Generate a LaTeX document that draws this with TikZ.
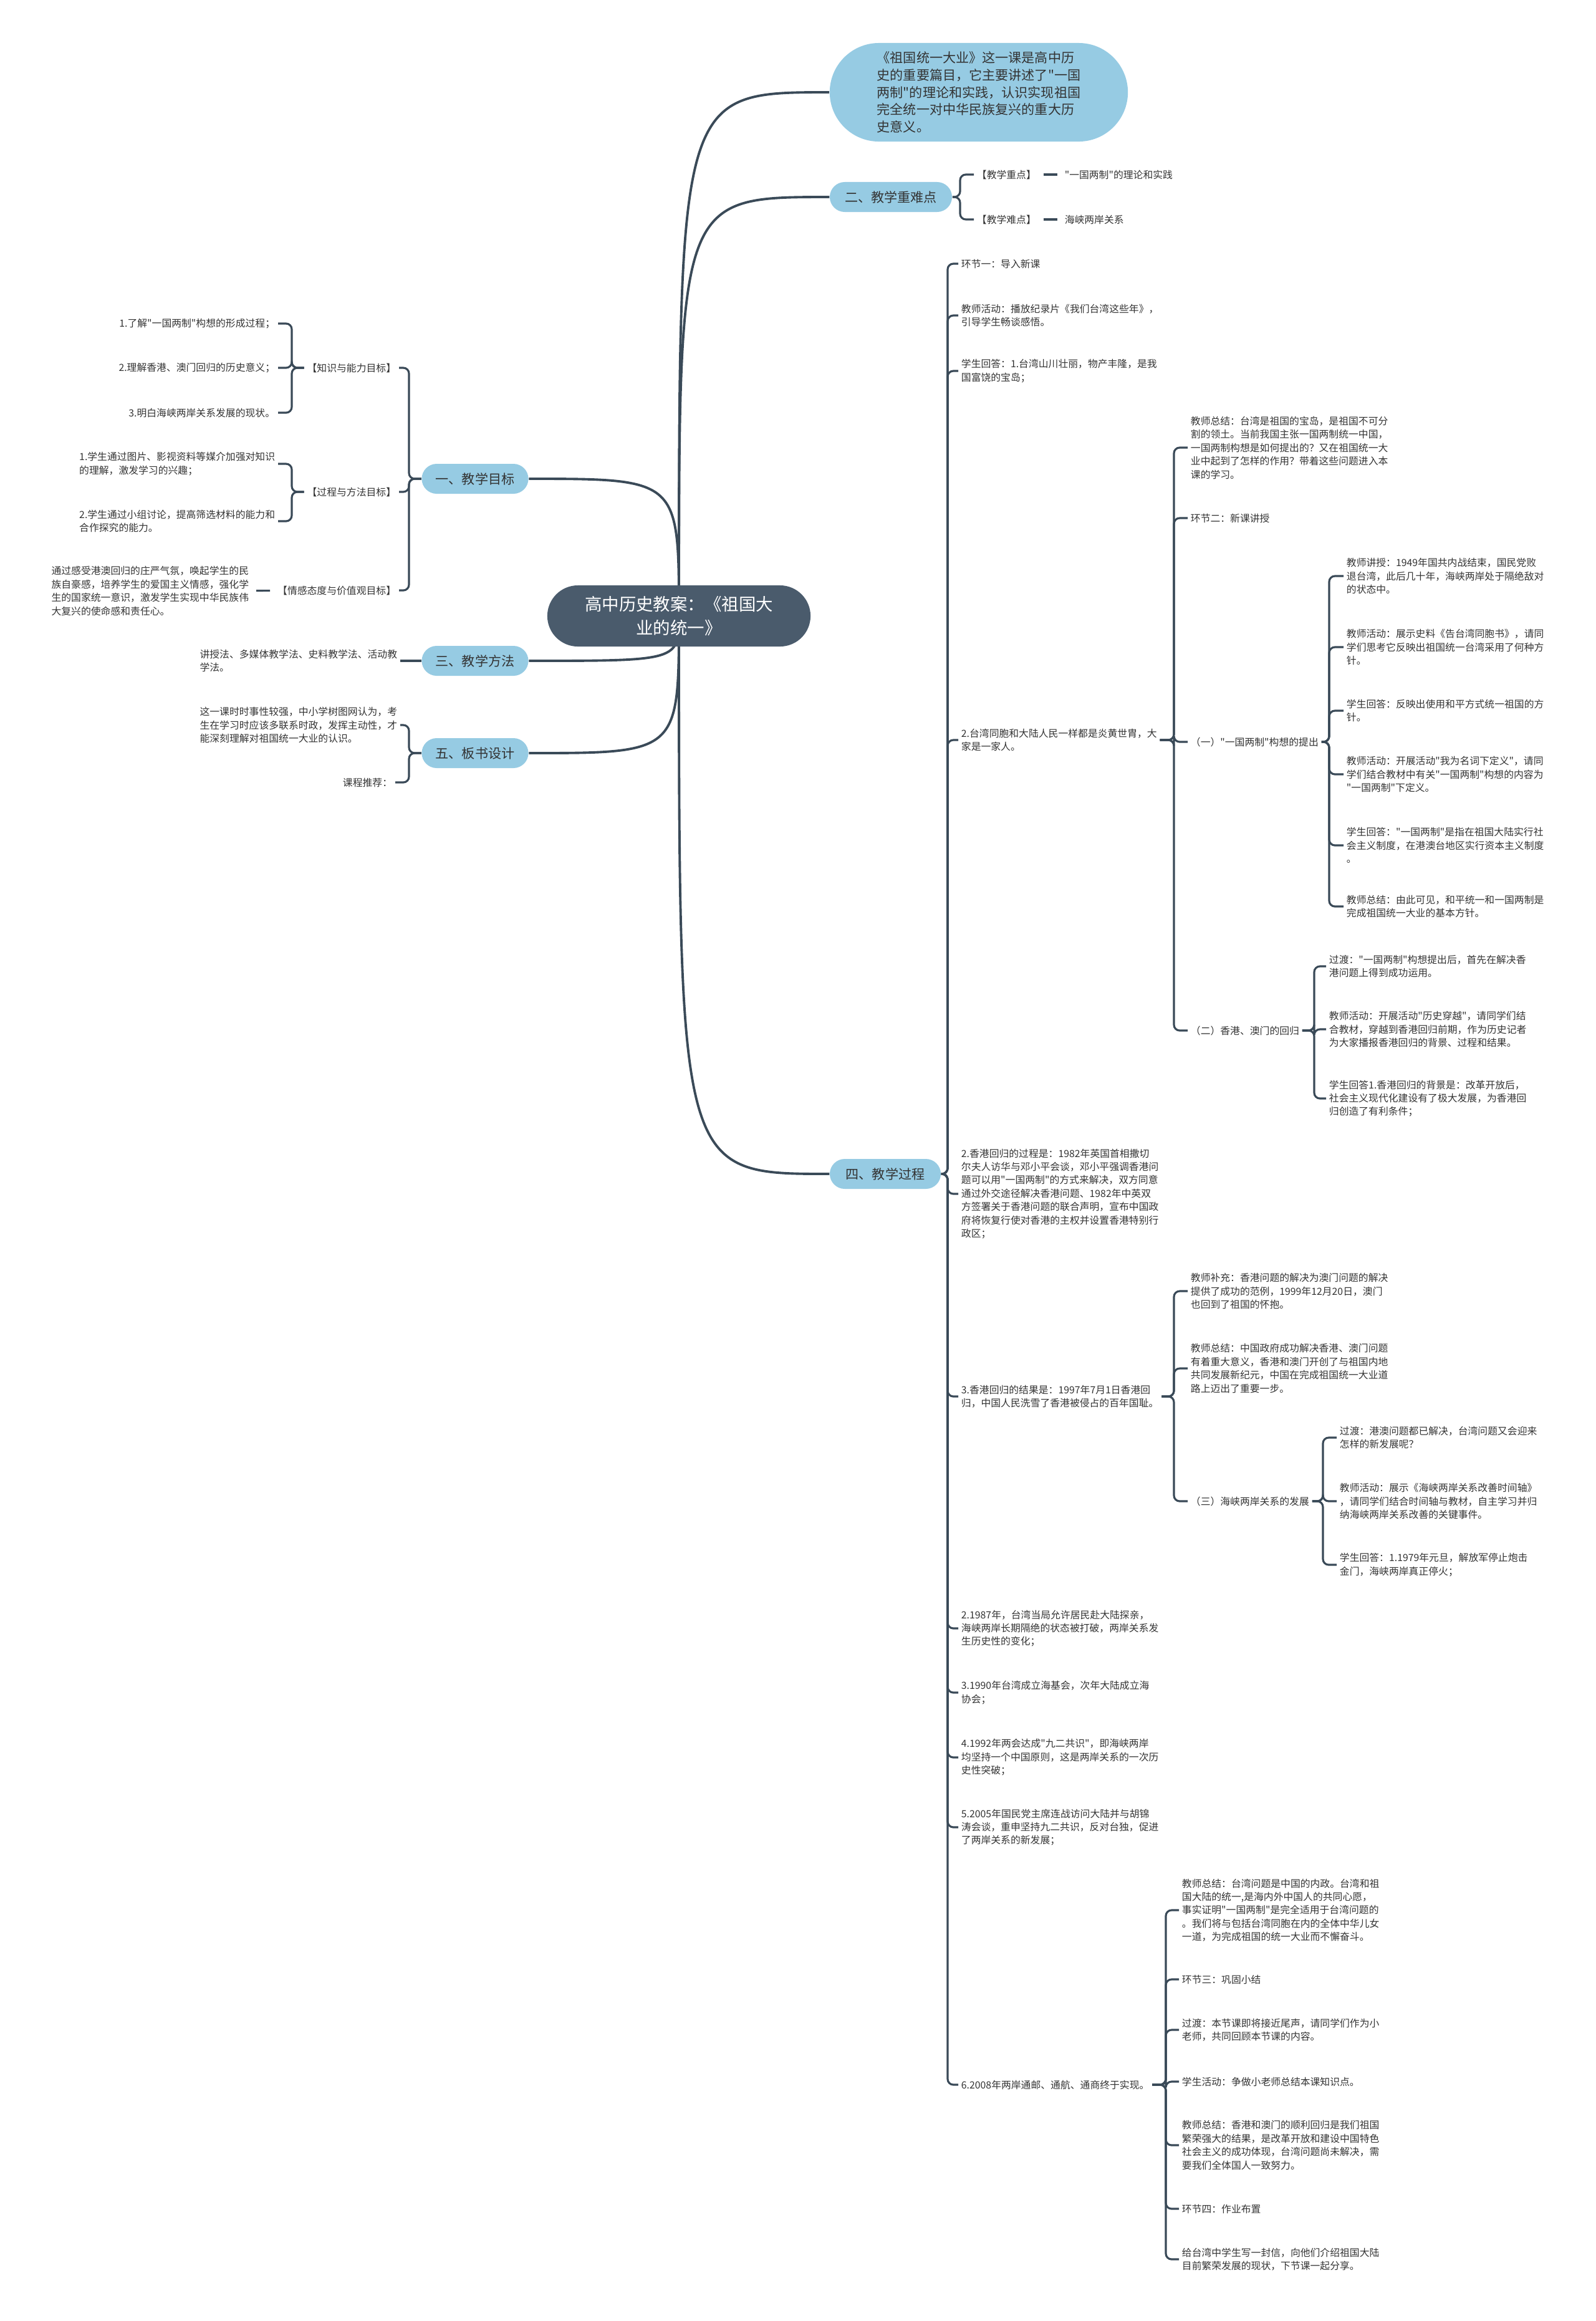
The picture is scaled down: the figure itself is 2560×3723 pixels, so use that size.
\documentclass[tikz,border=0pt]{standalone}
\usepackage{fontspec}
\setmainfont{Noto Sans CJK SC}[Ligatures=TeXOff]
\usetikzlibrary{positioning,backgrounds}
\definecolor{topicblue}{RGB}{150,203,227}
\definecolor{rootgray}{RGB}{74,91,108}
\definecolor{linegray}{RGB}{58,74,88}
\newcommand\leaffont{\fontsize{4.5pt}{6.1pt}\selectfont}

\begin{document}
\begin{tikzpicture}[x=0.01cm, y=-0.01cm,
  every node/.style={text=black!80},
  leaf/.style={font=\leaffont, align=left, inner sep=1.2pt},
  topic/.style={fill=topicblue, rounded corners=0.24cm, minimum height=0.48cm,
    inner sep=0pt, font=\fontsize{6pt}{7pt}\selectfont},
  link/.style={draw=linegray, line width=1.1pt},
  twig/.style={draw=linegray, line width=0.9pt, rounded corners=2.6pt}]
  \useasboundingbox (0,0) rectangle (2560,3723);

  \node[fill=rootgray, text=white, rounded corners=0.49cm, minimum width=4.22cm,
    minimum height=0.98cm, align=center, font=\fontsize{7.8pt}{10.8pt}\selectfont]
    (root) at (1089,988) {高中历史教案：《祖国大\\业的统一》};

  \node[topic, minimum width=4.78cm, minimum height=1.58cm, rounded corners=0.79cm,
    align=left, font=\fontsize{6pt}{7.9pt}\selectfont] (intro) at (1570,148)
    {《祖国统一大业》这一课是高中历\\史的重要篇目，它主要讲述了"一国\\两制"的理论和实践，认识实现祖国\\完全统一对中华民族复兴的重大历\\史意义。};
  \node[topic, minimum width=1.71cm] (goal) at (762,768) {一、教学目标};
  \node[topic, minimum width=1.96cm] (keys) at (1429,316) {二、教学重难点};
  \node[topic, minimum width=1.71cm] (method) at (762,1060) {三、教学方法};
  \node[topic, minimum width=1.78cm] (process) at (1420,1883) {四、教学过程};
  \node[topic, minimum width=1.71cm] (board) at (762,1208) {五、板书设计};

  \begin{scope}[on background layer]
    \foreach \n in {intro,keys,process}
      \draw[link] (root.center) .. controls (root.center |- \n.west) .. (\n.west);
    \foreach \n in {goal,method,board}
      \draw[link] (root.center) .. controls (root.center |- \n.east) .. (\n.east);
  \end{scope}

  % 二
  \node[leaf, anchor=west] (focus) at (1562,280) {【教学重点】};
  \node[leaf, right=0.36cm of focus] (focus1) {"一国两制"的理论和实践};
  \node[leaf, anchor=west] (hard) at (1562,352) {【教学难点】};
  \node[leaf, right=0.36cm of hard] (hard1) {海峡两岸关系};
  \foreach \c in {focus,hard}
    \draw[twig] (keys.east) -- (1540,0 |- keys.east) |- (\c.west);
  \draw[twig, shorten <=2pt, shorten >=2pt] (focus) -- (focus1);
  \draw[twig, shorten <=2pt, shorten >=2pt] (hard) -- (hard1);

  % 一
  \node[leaf, anchor=east] (know) at (640,590) {【知识与能力目标】};
  \node[leaf, anchor=east] (skill) at (640,789) {【过程与方法目标】};
  \node[leaf, anchor=east] (value) at (640,947) {【情感态度与价值观目标】};
  \foreach \c in {know,skill,value}
    \draw[twig] (goal.west) -- (656,0 |- goal.west) |- (\c.east);
  \node[leaf, anchor=east] (know1) at (446,519) {1.了解"一国两制"构想的形成过程；};
  \node[leaf, anchor=east] (know2) at (446,590) {2.理解香港、澳门回归的历史意义；};
  \node[leaf, anchor=east] (know3) at (446,662) {3.明白海峡两岸关系发展的现状。};
  \foreach \c in {know1,know2,know3}
    \draw[twig] (know.west) -- (468,0 |- know.west) |- (\c.east);
  \node[leaf, anchor=east] (skill1) at (446,744) {1.学生通过图片、影视资料等媒介加强对知识\\的理解，激发学习的兴趣；};
  \node[leaf, anchor=east] (skill2) at (446,836) {2.学生通过小组讨论，提高筛选材料的能力和\\合作探究的能力。};
  \foreach \c in {skill1,skill2}
    \draw[twig] (skill.west) -- (468,0 |- skill.west) |- (\c.east);
  \node[leaf, anchor=east] (value1) at (404,948) {通过感受港澳回归的庄严气氛，唤起学生的民\\族自豪感，培养学生的爱国主义情感，强化学\\生的国家统一意识，激发学生实现中华民族伟\\大复兴的使命感和责任心。};
  \draw[twig, shorten <=2pt, shorten >=2pt] (value) -- (value1);

  % 三
  \node[leaf, anchor=east] (method1) at (642,1060) {讲授法、多媒体教学法、史料教学法、活动教\\学法。};
  \draw[twig] (method) -- (method1);

  % 五
  \node[leaf, anchor=east] (board1) at (642,1163) {这一课时时事性较强，中小学树图网认为，考\\生在学习时应该多联系时政，发挥主动性，才\\能深刻理解对祖国统一大业的认识。};
  \node[leaf, anchor=east] (board2) at (634,1255) {课程推荐：};
  \foreach \c in {board1,board2}
    \draw[twig] (board.west) -- (656,0 |- board.west) |- (\c.east);

  % 四
  \node[leaf, anchor=west] (step1) at (1537,423) {环节一：导入新课};
  \node[leaf, anchor=west] (play) at (1537,506) {教师活动：播放纪录片《我们台湾这些年》，\\引导学生畅谈感悟。};
  \node[leaf, anchor=west] (answer1) at (1537,595) {学生回答：1.台湾山川壮丽，物产丰隆，是我\\国富饶的宝岛；};
  \node[leaf, anchor=west] (kin) at (1537,1187) {2.台湾同胞和大陆人民一样都是炎黄世胄，大\\家是一家人。};
  \node[leaf, anchor=west] (hkproc) at (1537,1915) {2.香港回归的过程是：1982年英国首相撒切\\尔夫人访华与邓小平会谈，邓小平强调香港问\\题可以用"一国两制"的方式来解决，双方同意\\通过外交途径解决香港问题、1982年中英双\\方签署关于香港问题的联合声明，宣布中国政\\府将恢复行使对香港的主权并设置香港特别行\\政区；};
  \node[leaf, anchor=west] (hkres) at (1537,2240) {3.香港回归的结果是：1997年7月1日香港回\\归，中国人民洗雪了香港被侵占的百年国耻。};
  \node[leaf, anchor=west] (cs1987) at (1537,2612) {2.1987年，台湾当局允许居民赴大陆探亲，\\海峡两岸长期隔绝的状态被打破，两岸关系发\\生历史性的变化；};
  \node[leaf, anchor=west] (cs1990) at (1537,2715) {3.1990年台湾成立海基会，次年大陆成立海\\协会；};
  \node[leaf, anchor=west] (cs1992) at (1537,2819) {4.1992年两会达成"九二共识"，即海峡两岸\\均坚持一个中国原则，这是两岸关系的一次历\\史性突破；};
  \node[leaf, anchor=west] (cs2005) at (1537,2931) {5.2005年国民党主席连战访问大陆并与胡锦\\涛会谈，重申坚持九二共识，反对台独，促进\\了两岸关系的新发展；};
  \node[leaf, anchor=west] (cs2008) at (1537,3344) {6.2008年两岸通邮、通航、通商终于实现。};
  \foreach \c in {step1,play,answer1,kin,hkproc,hkres,cs1987,cs1990,cs1992,cs2005,cs2008}
    \draw[twig] (process.east) -- (1520,0 |- process.east) |- (\c.west);

  \node[leaf, anchor=west] (sumA) at (1905,718) {教师总结：台湾是祖国的宝岛，是祖国不可分\\割的领土。当前我国主张一国两制统一中国，\\一国两制构想是如何提出的？又在祖国统一大\\业中起到了怎样的作用？带着这些问题进入本\\课的学习。};
  \node[leaf, anchor=west] (step2) at (1905,831) {环节二：新课讲授};
  \node[leaf, anchor=west] (partA) at (1905,1190) {（一）"一国两制"构想的提出};
  \node[leaf, anchor=west] (partB) at (1905,1653) {（二）香港、澳门的回归};
  \foreach \c in {sumA,step2,partA,partB}
    \draw[twig] (kin.east) -- (1883,0 |- kin.east) |- (\c.west);

  \node[leaf, anchor=west] (a1) at (2155,924) {教师讲授：1949年国共内战结束，国民党败\\退台湾，此后几十年，海峡两岸处于隔绝敌对\\的状态中。};
  \node[leaf, anchor=west] (a2) at (2155,1038) {教师活动：展示史料《告台湾同胞书》，请同\\学们思考它反映出祖国统一台湾采用了何种方\\针。};
  \node[leaf, anchor=west] (a3) at (2155,1140) {学生回答：反映出使用和平方式统一祖国的方\\针。};
  \node[leaf, anchor=west] (a4) at (2155,1242) {教师活动：开展活动"我为名词下定义"，请同\\学们结合教材中有关"一国两制"构想的内容为\\"一国两制"下定义。};
  \node[leaf, anchor=west] (a5) at (2155,1356) {学生回答："一国两制"是指在祖国大陆实行社\\会主义制度，在港澳台地区实行资本主义制度\\。};
  \node[leaf, anchor=west] (a6) at (2155,1454) {教师总结：由此可见，和平统一和一国两制是\\完成祖国统一大业的基本方针。};
  \foreach \c in {a1,a2,a3,a4,a5,a6}
    \draw[twig] (partA.east) -- (2132,0 |- partA.east) |- (\c.west);

  \node[leaf, anchor=west] (b1) at (2127,1550) {过渡："一国两制"构想提出后，首先在解决香\\港问题上得到成功运用。};
  \node[leaf, anchor=west] (b2) at (2127,1651) {教师活动：开展活动"历史穿越"，请同学们结\\合教材，穿越到香港回归前期，作为历史记者\\为大家播报香港回归的背景、过程和结果。};
  \node[leaf, anchor=west] (b3) at (2127,1762) {学生回答1.香港回归的背景是：改革开放后，\\社会主义现代化建设有了极大发展，为香港回\\归创造了有利条件；};
  \foreach \c in {b1,b2,b3}
    \draw[twig] (partB.east) -- (2108,0 |- partB.east) |- (\c.west);

  \node[leaf, anchor=west] (c1) at (1905,2071) {教师补充：香港问题的解决为澳门问题的解决\\提供了成功的范例，1999年12月20日，澳门\\也回到了祖国的怀抱。};
  \node[leaf, anchor=west] (c2) at (1905,2195) {教师总结：中国政府成功解决香港、澳门问题\\有着重大意义，香港和澳门开创了与祖国内地\\共同发展新纪元，中国在完成祖国统一大业道\\路上迈出了重要一步。};
  \node[leaf, anchor=west] (partC) at (1905,2408) {（三）海峡两岸关系的发展};
  \foreach \c in {c1,c2,partC}
    \draw[twig] (hkres.east) -- (1883,0 |- hkres.east) |- (\c.west);

  \node[leaf, anchor=west] (d1) at (2144,2306) {过渡：港澳问题都已解决，台湾问题又会迎来\\怎样的新发展呢？};
  \node[leaf, anchor=west] (d2) at (2144,2408) {教师活动：展示《海峡两岸关系改善时间轴》\\，请同学们结合时间轴与教材，自主学习并归\\纳海峡两岸关系改善的关键事件。};
  \node[leaf, anchor=west] (d3) at (2144,2510) {学生回答：1.1979年元旦，解放军停止炮击\\金门，海峡两岸真正停火；};
  \foreach \c in {d1,d2,d3}
    \draw[twig] (partC.east) -- (2122,0 |- partC.east) |- (\c.west);

  \node[leaf, anchor=west] (e1) at (1891,3064) {教师总结：台湾问题是中国的内政。台湾和祖\\国大陆的统一,是海内外中国人的共同心愿，\\事实证明"一国两制"是完全适用于台湾问题的\\。我们将与包括台湾同胞在内的全体中华儿女\\一道，为完成祖国的统一大业而不懈奋斗。};
  \node[leaf, anchor=west] (e2) at (1891,3175) {环节三：巩固小结};
  \node[leaf, anchor=west] (e3) at (1891,3256) {过渡：本节课即将接近尾声，请同学们作为小\\老师，共同回顾本节课的内容。};
  \node[leaf, anchor=west] (e4) at (1891,3339) {学生活动：争做小老师总结本课知识点。};
  \node[leaf, anchor=west] (e5) at (1891,3441) {教师总结：香港和澳门的顺利回归是我们祖国\\繁荣强大的结果，是改革开放和建设中国特色\\社会主义的成功体现，台湾问题尚未解决，需\\要我们全体国人一致努力。};
  \node[leaf, anchor=west] (e6) at (1891,3543) {环节四：作业布置};
  \node[leaf, anchor=west] (e7) at (1891,3624) {给台湾中学生写一封信，向他们介绍祖国大陆\\目前繁荣发展的现状，下节课一起分享。};
  \foreach \c in {e1,e2,e3,e4,e5,e6,e7}
    \draw[twig] (cs2008.east) -- (1870,0 |- cs2008.east) |- (\c.west);
\end{tikzpicture}
\end{document}
